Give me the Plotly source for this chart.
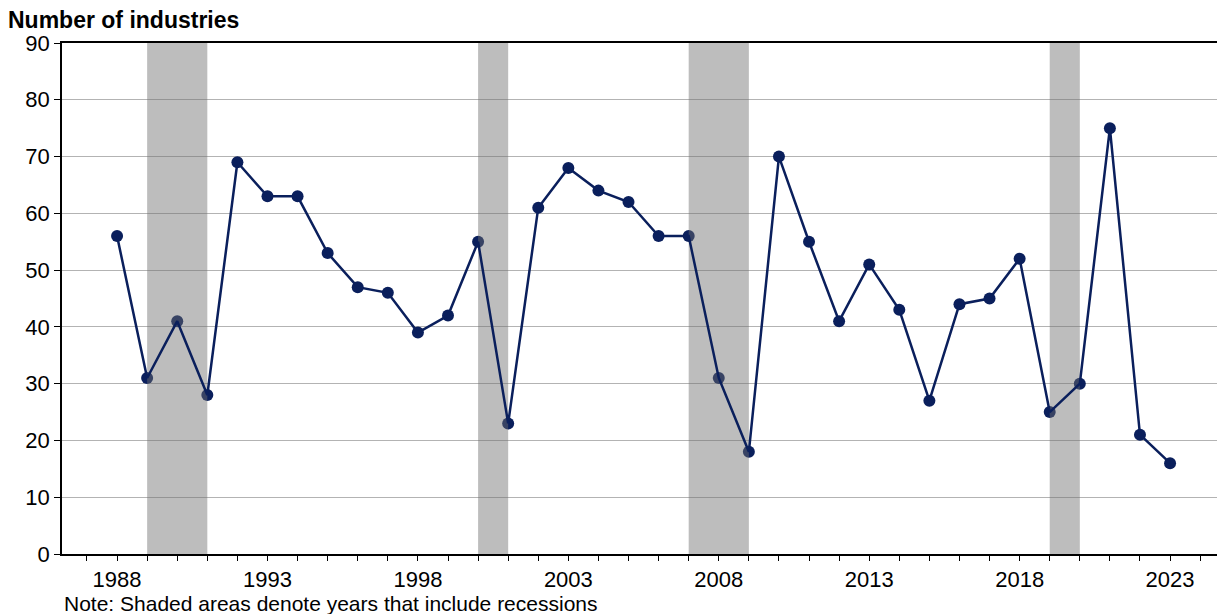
import plotly.graph_objects as go

years = list(range(1988, 2024))
industries = [56, 31, 41, 28, 69, 63, 63, 53, 47, 46, 39, 42, 55, 23, 61, 68, 64, 62,
              56, 56, 31, 18, 70, 55, 41, 51, 43, 27, 44, 45, 52, 25, 30, 75, 21, 16]
recession_start = [1989, 2000, 2007, 2019]
recession_end = [1991, 2001, 2009, 2020]
x_tick_labels = [1988, 1993, 1998, 2003, 2008, 2013, 2018, 2023]

NAVY = "#0a1f5c"
FONT = "Liberation Sans, Arial, sans-serif"

shade_x, shade_y = [], []
for s, e in zip(recession_start, recession_end):
    shade_x += [s, e, e, s, s, None]
    shade_y += [0, 0, 90, 90, 0, None]

fig = go.Figure()
fig.add_trace(go.Scatter(x=years, y=industries, mode="markers",
                         marker=dict(color=NAVY, size=12), hoverinfo="skip", showlegend=False))
fig.add_trace(go.Scatter(x=shade_x, y=shade_y, mode="lines", fill="toself",
                         fillcolor="rgba(112,112,112,0.46)", line=dict(width=0),
                         hoverinfo="skip", showlegend=False))
fig.add_trace(go.Scatter(x=years, y=industries, mode="lines",
                         line=dict(color=NAVY, width=2.5), showlegend=False))

fig.update_layout(
    width=1218, height=614,
    margin=dict(l=62, r=1, t=43, b=60),
    plot_bgcolor="white", paper_bgcolor="white",
    font=dict(family=FONT, size=22, color="black"),
    xaxis=dict(range=[1986.17, 2024.56], tickvals=x_tick_labels,
               ticktext=[str(v) for v in x_tick_labels],
               ticks="outside", ticklen=5, tickcolor="black", tickwidth=1,
               minor=dict(dtick=1, tick0=1988, ticks="outside", ticklen=5,
                          tickcolor="black", tickwidth=1, showgrid=False),
               showgrid=False, showline=True, linecolor="black", linewidth=1.5,
               mirror=True, zeroline=False, fixedrange=True),
    yaxis=dict(range=[0, 90], dtick=10, tick0=0, ticks="outside", ticklen=6,
               tickcolor="black", showgrid=True, gridcolor="#b3b3b3", gridwidth=1,
               showline=True, linecolor="black", linewidth=1.5, zeroline=False,
               fixedrange=True),
    annotations=[
        dict(text="<b>Number of industries</b>", xref="paper", yref="paper",
             x=-56/1155, y=1.045, xanchor="left", yanchor="middle", showarrow=False,
             font=dict(size=23, family=FONT, color="black")),
        dict(text="Note: Shaded areas denote years that include recessions",
             xref="paper", yref="paper", x=0.0, y=-0.096, xanchor="left",
             yanchor="middle", showarrow=False,
             font=dict(size=21, family=FONT, color="black")),
    ],
)

fig.write_html("out.html", config={"displayModeBar": False},
               post_script="document.body.style.margin='0';document.body.style.overflow='hidden';")
